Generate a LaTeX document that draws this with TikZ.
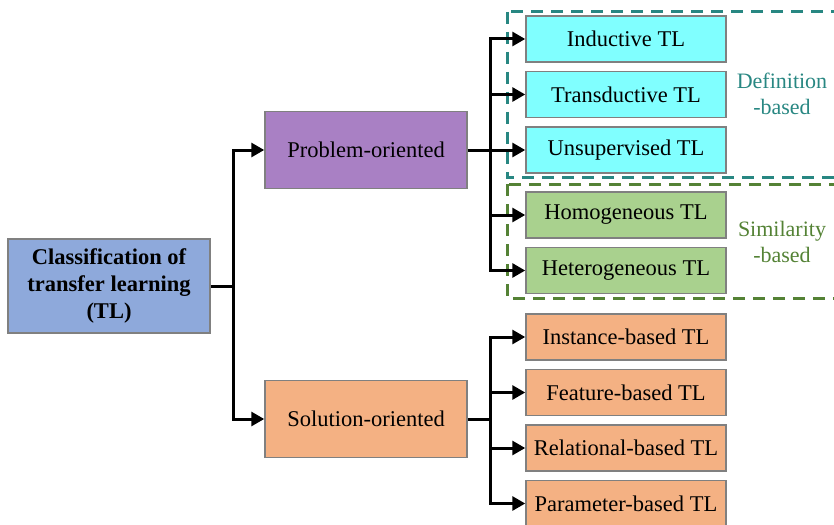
\documentclass[tikz,border=0pt]{standalone}
\usepackage{fontspec}
\setmainfont{Liberation Serif}
\usetikzlibrary{positioning, arrows.meta, calc}
\definecolor{rootblue}{RGB}{142,169,219}
\definecolor{probpurple}{RGB}{169,128,196}
\definecolor{solorange}{RGB}{244,177,131}
\definecolor{defcyan}{RGB}{128,255,255}
\definecolor{simgreen}{RGB}{169,209,142}
\definecolor{defteal}{RGB}{40,135,130}
\definecolor{simdark}{RGB}{84,130,53}
\definecolor{boxedge}{RGB}{128,128,128}

\begin{document}
\begin{tikzpicture}[x=1pt,y=-1pt,node distance=55.5pt,on grid,
    box/.style={draw=boxedge,line width=1.5pt,rectangle,inner sep=0pt,
      font=\fontsize{22.5}{27}\selectfont},
    mainbox/.style={box,minimum width=202pt,minimum height=77pt},
    leaf/.style={box,minimum width=200pt,minimum height=46pt},
    link/.style={line width=3pt},
    arr/.style={link,-{Triangle[length=13pt,width=14pt]}},
    frame/.style={line width=3pt,dash pattern=on 12pt off 8pt},
    grouplabel/.style={align=center,font=\fontsize{22}{26}\selectfont}]
    \clip (0,0) rectangle (834,524);

    \node[mainbox,fill=rootblue,minimum height=94pt,align=center,
      font=\fontsize{22.5}{27}\selectfont\bfseries]  (root) at (109,286)
      {Classification of\\transfer learning\\(TL)};
    \node[mainbox,fill=probpurple]  (prob) at (366,150) {Problem-oriented};
    \node[mainbox,fill=solorange]   (sol)  at (366,419) {Solution-oriented};

    % problem-oriented children
    \node[leaf,fill=defcyan]   (ind)   at (626,39)     {Inductive TL};
    \node[leaf,fill=defcyan]   (trans) [below=of ind]   {Transductive TL};
    \node[leaf,fill=defcyan]   (unsup) [below=of trans] {Unsupervised TL};
    \node[leaf,fill=simgreen]  (homo)  [below=65pt of unsup] {Homogeneous TL};
    \node[leaf,fill=simgreen]  (hetero) [below=of homo] {Heterogeneous TL};

    % solution-oriented children
    \node[leaf,fill=solorange] (inst)  at (626,337)    {Instance-based TL};
    \node[leaf,fill=solorange] (feat)  [below=of inst] {Feature-based TL};
    \node[leaf,fill=solorange] (rel)   [below=of feat] {Relational-based TL};
    \node[leaf,fill=solorange] (param) [below=of rel]  {Parameter-based TL};

    % groups (right side runs off the page)
    \draw[frame,defteal] (507,12) rectangle (850,177);
    \draw[frame,simdark] (507,184) rectangle (850,298);
    \node[grouplabel,text=defteal] (deflabel) at (782,94)  {Definition\\-based};
    \node[grouplabel,text=simdark] (simlabel) at (782,242) {Similarity\\-based};

    % connectors
    \coordinate (rootj) at ($(root.east)+(23,0)$);
    \coordinate (probj) at ($(prob.east)+(23,0)$);
    \coordinate (solj)  at ($(sol.east)+(23,0)$);
    \draw[link] (root.east) -- (rootj);
    \draw[arr] (rootj) |- (prob.west);
    \draw[arr] (rootj) |- (sol.west);
    \draw[link] (prob.east) -- (probj);
    \foreach \n in {ind,trans,unsup,homo,hetero}
      \draw[arr] (probj) |- (\n.west);
    \draw[link] (sol.east) -- (solj);
    \foreach \n in {inst,feat,rel,param}
      \draw[arr] (solj) |- (\n.west);
\end{tikzpicture}
\end{document}
